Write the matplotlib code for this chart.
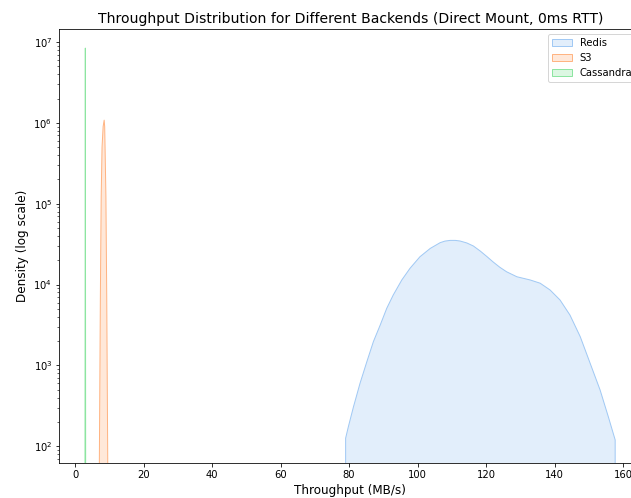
import numpy as np
import matplotlib
matplotlib.use("Agg")
import matplotlib.pyplot as plt
from matplotlib.patches import Patch
from matplotlib.colors import to_rgba

# ---- data (density curves, MB/s vs density) ----
backends = ["Redis", "S3", "Cassandra"]
colors = ["#a1c9f4", "#ffb482", "#8de5a1"]

redis_x = [79.0, 79.8, 81.3, 83.2, 85.2, 87.1, 89.1, 91.0, 92.9, 95.4, 97.8,
           100.7, 103.7, 106.6, 108.0, 109.5, 111.0, 112.4, 114.4, 116.3,
           118.3, 120.2, 122.1, 124.0, 126.0, 129.0, 132.9, 135.8, 138.7,
           141.6, 144.5, 147.5, 150.4, 153.3, 155.7, 157.7]
redis_d = [126, 175, 309, 601, 1114, 1968, 3163, 5082, 7430, 11400, 15900,
           22100, 28000, 33000, 34500, 35200, 35200, 34600, 32700, 30000,
           26000, 22300, 19000, 16400, 14400, 12500, 11400, 10400, 8570,
           6450, 4200, 2270, 1062, 497, 232, 120]

s3_x = [7.09, 7.39, 7.63, 7.88, 8.2, 8.5, 8.65, 8.76, 9.01, 9.25, 9.55]
s3_d = [60, 7.0e3, 1.22e5, 5.0e5, 9.0e5, 1.08e6, 9.0e5, 5.0e5, 1.22e5, 7.0e3, 60]

cass_x = [2.9, 3.0, 3.1]
cass_d = [30, 8.4e6, 30]

series = [(redis_x, redis_d), (s3_x, s3_d), (cass_x, cass_d)]

title = "Throughput Distribution for Different Backends (Direct Mount, 0ms RTT)"
xlabel = "Throughput (MB/s)"
ylabel = "Density (log scale)"

# ---- figure ----
W, H, DPI = 631, 498, 72
fig = plt.figure(figsize=(W / DPI, H / DPI), dpi=DPI)
ax = fig.add_axes([59.3 / W, 1 - 463.3 / H, (641.2 - 59.3) / W, (463.3 - 29.3) / H])

handles = []
for name, col, (xs, ds) in zip(backends, colors, series):
    ax.fill_between(xs, 0, ds, facecolor=to_rgba(col, 0.3),
                    edgecolor=to_rgba(col, 1.0), linewidth=1.0)
    handles.append(Patch(facecolor=to_rgba(col, 0.3), edgecolor=to_rgba(col, 1.0),
                         label=name))

ax.set_yscale("log")
ax.set_xlim(-4.6, 165.3)
ax.set_ylim(10 ** 1.79, 10 ** 7.157)
ax.set_xticks(np.arange(0, 161, 20))
ax.tick_params(labelsize=10)

ax.set_title(title, fontsize=14)
ax.set_xlabel(xlabel, fontsize=12)
ax.set_ylabel(ylabel, fontsize=12)
ax.legend(handles=handles, loc="upper right", fontsize=10)

fig.savefig("out.png", dpi=DPI)
